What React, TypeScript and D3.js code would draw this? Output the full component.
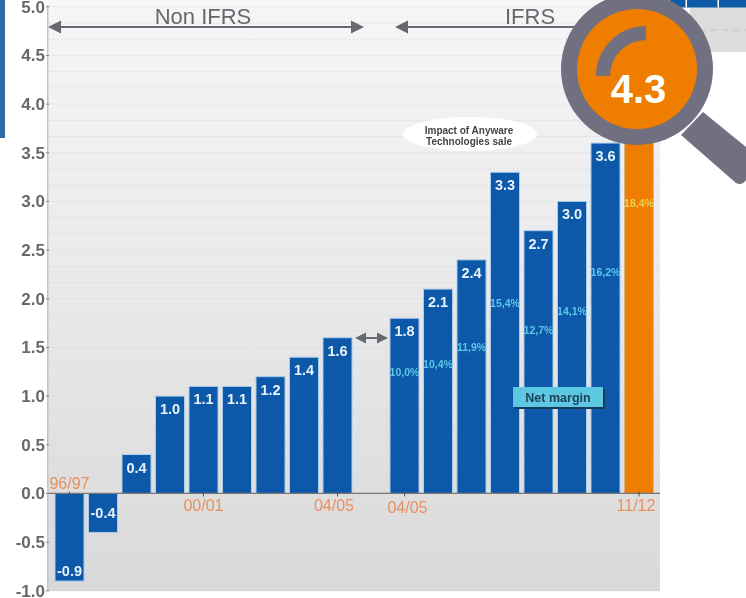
import React from "react";
import * as d3 from "d3";

const categories = ["96/97","97/98","98/99","99/00","00/01","01/02","02/03","03/04","04/05 a","gap","04/05 b","05/06","06/07","07/08","08/09","09/10","10/11","11/12"];
const profit = [-0.9,-0.4,0.4,1.0,1.1,1.1,1.2,1.4,1.6,null,1.8,2.1,2.4,3.3,2.7,3.0,3.6,4.3];
const margins = ["10,0%","10,4%","11,9%","15,4%","12,7%","14,1%","16,2%","18,4%"];
const marginCats = ["04/05 b","05/06","06/07","07/08","08/09","09/10","10/11","11/12"];
const marginLevels = [1.24,1.32,1.49,1.95,1.67,1.86,2.26,2.97];
const yTicks = [5,4.5,4,3.5,3,2.5,2,1.5,1,0.5,0,-0.5,-1];
const xLabels = [
  { cat: "96/97", text: "96/97" },
  { cat: "00/01", text: "00/01" },
  { cat: "04/05 a", text: "04/05" },
  { cat: "04/05 b", text: "04/05" },
  { cat: "11/12", text: "11/12" },
];

const W = 746, H = 598;
const x = d3.scaleBand<string>().domain(categories).range([55, 653.5]).paddingInner(0.134).paddingOuter(0).align(0);
const y = d3.scaleLinear().domain([-1, 5]).range([590.8, 6.8]);
const grid = d3.range(-6, 31).map((i) => i / 6);
const sans = "'Liberation Sans', Arial, sans-serif";

export default function App() {
  const arrow = (x1: number, x2: number, yy: number, size: number) => (
    <g fill="#666a6e" stroke="none">
      <rect x={x1 + 4} y={yy - 1} width={x2 - x1 - 8} height={2} />
      <path d={`M${x1},${yy}L${x1 + size * 2},${yy - size}V${yy + size}Z`} />
      <path d={`M${x2},${yy}L${x2 - size * 2},${yy - size}V${yy + size}Z`} />
    </g>
  );
  const cx = 637, cy = 69;
  const arc = d3.arc()({ innerRadius: 36, outerRadius: 50, startAngle: -Math.PI / 2, endAngle: 0 }) as string;
  const labelDx: Record<string, number> = { "04/05 a": -3.5, "04/05 b": 3, "11/12": -3 };
  return (
    <svg width={W} height={H} viewBox={`0 0 ${W} ${H}`} style={{ position: "absolute", left: 0, top: 0, background: "#fff" }} fontFamily={sans}>
      <defs>
        <linearGradient id="bg" x1="0" y1="0" x2="0" y2="1">
          <stop offset="0" stopColor="#f6f6f9" />
          <stop offset="0.5" stopColor="#e9e9eb" />
          <stop offset="1" stopColor="#d9d9d9" />
        </linearGradient>
        <filter id="soft" x="-5%" y="-5%" width="110%" height="110%">
          <feGaussianBlur stdDeviation="0.5" />
        </filter>
      </defs>
      <g filter="url(#soft)">
        <rect x={0} y={0} width={5} height={138} fill="#2e6da4" />
        <rect x={690} y={6} width={56} height={46} fill="#dcdcdc" />
        <line x1={700} x2={746} y1={30} y2={30} stroke="#c4c4c4" strokeDasharray="6 5" />
        <rect x={670} y={0} width={76} height={7.5} fill="#0d5aa7" />
        <rect x={685.5} y={0} width={1.5} height={7.5} fill="#fff" />
        <rect x={717.5} y={0} width={1.5} height={7.5} fill="#fff" />
        <rect x={48} y={0} width={612} height={591} fill="url(#bg)" />
        <rect x={47} y={5} width={1.5} height={586} fill="#c4c4c4" />
        {grid.map((g, i) => (
          <line key={i} x1={49} x2={660} y1={y(g)} y2={y(g)} stroke="#cfcfd3" strokeWidth={1} strokeDasharray="1.5 2.5" opacity={0.8} />
        ))}
        {profit.map((v, i) => {
          if (v === null) return null;
          const c = categories[i];
          const top = y(Math.max(v, 0));
          const h = Math.abs(y(v) - y(0));
          const orange = c === "11/12";
          return (
            <rect key={c} x={x(c)} y={top} width={x.bandwidth()} height={h}
              fill={orange ? "#ef7d00" : "#0b59a8"} stroke={orange ? "#d8b48c" : "#a9cdec"} strokeWidth={1} />
          );
        })}
        <line x1={48} x2={660} y1={y(0)} y2={y(0)} stroke="#77777a" strokeWidth={1.2} />
        {xLabels.map((l) => {
          const px = (x(l.cat) as number) + x.bandwidth() / 2;
          const above = l.text === "96/97";
          return (
            <g key={l.cat}>
              <line x1={px} x2={px} y1={y(0) - 2} y2={y(0) + 3} stroke="#555" strokeWidth={1} />
              <text x={px + (labelDx[l.cat] ?? 0)} y={above ? y(0) - 4 : l.cat === "04/05 b" ? y(0) + 20 : y(0) + 18}
                textAnchor="middle" fontSize={16} fill="#e9905c">{l.text}</text>
            </g>
          );
        })}
        {yTicks.map((t) => (
          <g key={t}>
            <text x={45} y={y(t) + 5.8} textAnchor="end" fontSize={17} fontWeight="bold" fill="#66686b">{t.toFixed(1)}</text>
            <line x1={46} x2={49} y1={y(t)} y2={y(t)} stroke="#888" />
          </g>
        ))}
        {profit.map((v, i) => {
          if (v === null || categories[i] === "11/12") return null;
          const c = categories[i];
          const px = (x(c) as number) + x.bandwidth() / 2;
          const py = v < -0.5 ? y(v) - 5 : v < 0 ? y(v) - 14 : y(v) + 18;
          return (
            <text key={c} x={px} y={py} textAnchor="middle" fontSize={14.5} fontWeight="bold" fill="#e8f2fa">{v.toFixed(1)}</text>
          );
        })}
        {margins.map((m, i) => {
          const c = marginCats[i];
          const px = (x(c) as number) + x.bandwidth() / 2;
          return (
            <text key={c} x={px} y={y(marginLevels[i]) + 3} textAnchor="middle" fontSize={10.5} fontWeight="bold"
              fill={c === "11/12" ? "#e8d25a" : "#5fc6e8"}>{m}</text>
          );
        })}
        {arrow(48, 364, 27, 6.5)}
        {arrow(395, 640, 27, 6.5)}
        <text x={203} y={24} textAnchor="middle" fontSize={22} fill="#66686b">Non IFRS</text>
        <text x={530} y={24} textAnchor="middle" fontSize={22} fill="#66686b">IFRS</text>
        {arrow(355, 388, 338, 5.5)}
        <ellipse cx={470} cy={134} rx={67} ry={17} fill="#fff" />
        <text x={469} y={134} textAnchor="middle" fontSize={10} fontWeight="bold" fill="#444">Impact of Anyware</text>
        <text x={469} y={145} textAnchor="middle" fontSize={10} fontWeight="bold" fill="#444">Technologies sale</text>
        <rect x={515} y={389} width={90} height={20} fill="#123a5c" />
        <rect x={513} y={387} width={90} height={20} fill="#5cc8e2" />
        <text x={558} y={402} textAnchor="middle" fontSize={12.5} fontWeight="bold" fill="#1f3f55">Net margin</text>
        <path d="M703,112L746,147L746,180Q742,186 736,183L681,135Z" fill="#6f6f80" />
        <circle cx={cx} cy={cy} r={76} fill="#6f6f80" />
        <circle cx={cx} cy={cy} r={60} fill="#ef7d00" />
        <path d={arc} transform="translate(646,76)" fill="#6f6f80" />
      </g>
      <text x={638.5} y={103} textAnchor="middle" fontSize={40} fontWeight="bold" fill="#fff">4.3</text>
    </svg>
  );
}
